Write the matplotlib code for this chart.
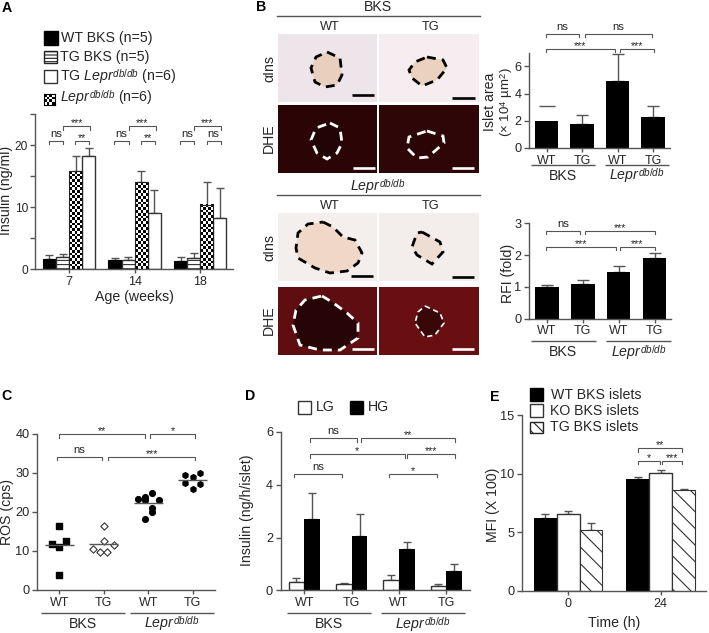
#
# Multi-panel insulin / ROS figure (A-E) with stand-ins for the micrographs in B
#
import numpy as np
import matplotlib
matplotlib.use('Agg')
import matplotlib.pyplot as plt
from matplotlib import _mathtext
from matplotlib.patches import Rectangle, Polygon

plt.rcParams.update({
    "font.family": "Liberation Sans",
    "mathtext.fontset": "custom",
    "mathtext.rm": "Liberation Sans",
    "mathtext.it": "Liberation Sans:italic",
    "mathtext.default": "regular",
    "hatch.linewidth": 0.8,
    "hatch.color": "#222222",
})
# superscripts sit lower in the original
_mathtext.FontConstantsBase.sup1 = 0.45

W, H = 709, 633
INK = '#262626'
AXC = '#555555'
LEPR = r'$\mathit{Lepr}^{\mathit{db/db}}$'

# panel A
a_weeks = ['7', '14', '18']
a_wt_bks = [1.6, 1.4, 1.3]
a_wt_bks_top = [2.2, 1.7, 1.9]
a_tg_bks = [2.0, 1.5, 1.7]
a_tg_bks_top = [2.4, 2.0, 2.6]
a_lepr = [15.8, 14.0, 10.4]
a_lepr_top = [18.2, 15.8, 14.0]
a_tg_lepr = [18.2, 9.0, 8.2]
a_tg_lepr_top = [19.5, 12.7, 13.0]
a_yticks = [0, 5, 10, 15, 20, 25]
a_ylabels = ['0', '', '10', '', '20', '']

# panel B, charts
geno = ['WT', 'TG', 'WT', 'TG']
islet_area = [1.95, 1.75, 4.9, 2.25]
islet_area_top = [3.05, 2.4, 6.9, 3.1]
rfi = [1.0, 1.1, 1.47, 1.92]
rfi_top = [1.07, 1.22, 1.67, 2.06]

# panel C
ros_wt_x = [0, -0.165, 0.16, 0, 0]
ros_wt = [16.5, 11.9, 12.5, 11.1, 3.8]
ros_tg_x = [0, 0, -0.25, 0.24, -0.08, 0.08]
ros_tg = [16.5, 12.6, 10.5, 11.5, 9.6, 9.6]
ros_lepr_x = [-0.24, -0.08, -0.08, 0.08, 0.24, 0.08, 0.08, -0.08]
ros_lepr = [23.3, 23.9, 23.0, 24.9, 23.0, 20.9, 19.9, 18.2]
ros_tglepr_x = [-0.165, 0, 0.16, -0.165, 0.16, 0]
ros_tglepr = [29.4, 28.9, 30.0, 27.4, 27.1, 25.9]
ros_means = [11.4, 11.8, 22.3, 28.2]

# panel D
lg = [0.33, 0.22, 0.38, 0.17]
lg_top = [0.47, 0.29, 0.57, 0.23]
hg = [2.72, 2.07, 1.55, 0.72]
hg_top = [3.67, 2.9, 1.83, 1.0]

# panel E
e_times = ['0', '24']
e_wt = [6.2, 9.55]
e_wt_top = [6.55, 9.7]
e_ko = [6.6, 10.1]
e_ko_top = [6.8, 10.35]
e_tg = [5.2, 8.65]
e_tg_top = [5.8, 8.72]

# significance brackets: x0, x1, y, label
a_brackets = [(-0.31, -0.09, 20.7, 'ns'), (-0.09, 0.32, 23.0, '***'), (0.09, 0.31, 20.7, '**'),
              (0.69, 0.91, 20.7, 'ns'), (0.91, 1.32, 23.0, '***'), (1.09, 1.31, 20.7, '**'),
              (1.69, 1.91, 20.7, 'ns'), (1.91, 2.31, 23.0, '***'), (2.10, 2.31, 20.7, 'ns')]
b1_brackets = [(-0.03, 0.92, 8.4, 'ns'), (1.07, 2.98, 8.4, 'ns'),
               (-0.03, 1.93, 7.3, '***'), (2.07, 3.02, 7.3, '***')]
b2_brackets = [(-0.03, 0.92, 2.77, 'ns'), (1.07, 3.0, 2.77, '***'),
               (-0.03, 1.92, 2.26, '***'), (2.05, 3.0, 2.26, '***')]
c_brackets = [(-0.015, 1.925, 39.8, '**'), (2.04, 3.05, 39.8, '*'),
              (-0.045, 0.96, 34.1, 'ns'), (1.10, 3.05, 34.1, '***')]
d_brackets = [(0.11, 1.12, 5.77, 'ns'), (1.19, 3.18, 5.77, '**'),
              (0.11, 2.12, 5.15, '*'), (2.16, 3.18, 5.15, '***'),
              (-0.22, 0.80, 4.42, 'ns'), (1.78, 2.80, 4.42, '*')]
e_brackets = [(0.756, 1.233, 12.2, '**'), (0.756, 0.995, 11.1, '*'), (1.016, 1.23, 11.1, '***')]

# micrograph stand-ins: background, islet fill, outline colour, outline width, frame, outline
panels = [
    ('#EDE5EA', '#E8CFBE', 'k', 2.0, (278, 34, 377, 102),
     [(327, 52), (340, 58), (342, 75), (337, 85), (325, 87), (315, 82), (311, 68), (316, 57)]),
    ('#F5EDEF', '#EBD2BF', 'k', 2.0, (379, 34, 479, 102),
     [(427, 57), (443, 60), (447, 68), (437, 80), (422, 86), (412, 78), (409, 70), (415, 62)]),
    ('#2B0506', '#210405', 'w', 2.0, (278, 105, 377, 173),
     [(330, 123), (340, 128), (342, 143), (337, 153), (327, 159), (317, 153), (311, 140), (316, 128)]),
    ('#2E0607', '#2B0506', 'w', 2.0, (379, 105, 479, 173),
     [(427, 131), (443, 136), (444, 143), (428, 157), (417, 158), (407, 148), (409, 137)]),
    ('#F4EEEC', '#EFD8C8', 'k', 2.0, (278, 213, 377, 281),
     [(323, 222), (333, 227), (343, 237), (355, 240), (362, 253), (358, 263), (347, 271),
      (330, 273), (315, 268), (298, 258), (296, 248), (298, 233), (308, 224)]),
    ('#F3EEEC', '#EDDDD2', 'k', 2.0, (379, 213, 479, 281),
     [(422, 232), (440, 242), (443, 252), (432, 264), (417, 255), (412, 247), (417, 233)]),
    ('#5E0E10', '#270506', 'w', 2.0, (278, 287, 377, 355),
     [(322, 296), (332, 302), (347, 313), (358, 323), (358, 338), (340, 350), (320, 350),
      (300, 345), (293, 325), (296, 310), (305, 300)]),
    ('#6A0F11', '#3A0708', 'w', 1.2, (379, 287, 479, 355),
     [(425, 306), (440, 313), (444, 323), (435, 335), (425, 337), (415, 323), (418, 312)]),
]
scale_bars = [(352, 374, 95, 'k'), (452, 475, 98, 'k'), (353, 375, 168, 'w'), (452, 474, 168, 'w'),
              (351, 373, 276, 'k'), (452, 474, 277, 'k'), (352, 374, 349, 'w'), (452, 474, 349, 'w')]

fig = plt.figure(figsize=(W / 100, H / 100), dpi=100)


def px_axes(x0, yb, x1, yt, xlim, ylim):
    ax = fig.add_axes([x0 / W, 1 - yb / H, (x1 - x0) / W, (yb - yt) / H])
    ax.set_xlim(*xlim)
    ax.set_ylim(*ylim)
    ax.patch.set_alpha(0)
    for s in ['top', 'right']:
        ax.spines[s].set_visible(False)
    for s in ['left', 'bottom']:
        ax.spines[s].set_color(AXC)
        ax.spines[s].set_linewidth(1.0)
    ax.tick_params(colors=INK, color=AXC, width=1.0, length=3.5, labelsize=9.2, pad=2)
    ax.tick_params(axis='x', labelsize=9, length=3, pad=2)
    return ax


def txt(x, y, s, size=10.2, **kw):
    kw.setdefault('ha', 'center')
    kw.setdefault('va', 'center')
    kw.setdefault('color', INK)
    return fig.text(x / W, 1 - y / H, s, fontsize=size, **kw)


def bracket(ax, x0, x1, y, label, tick_px=3.5):
    h = ax.get_window_extent().height
    lo, hi = ax.get_ylim()
    dy = (hi - lo) / h
    ax.plot([x0, x0, x1, x1], [y - tick_px * dy, y, y, y - tick_px * dy], color=AXC, lw=0.8,
            clip_on=False, solid_joinstyle='miter', zorder=4)
    off = 7 if label == 'ns' else 3
    ax.text((x0 + x1) / 2, y + off * dy, label, ha='center', va='center',
            fontsize=8.2 if label == 'ns' else 7.8, color=INK, clip_on=False)


def group_label(ax, x0, x1, s, line_px, text_px):
    h = ax.get_window_extent().height
    ax.plot([x0, x1], [-line_px / h] * 2, transform=ax.get_xaxis_transform(), color=AXC, lw=1.0,
            clip_on=False, solid_capstyle='butt')
    ax.text((x0 + x1) / 2, -(text_px + 5) / h, s, transform=ax.get_xaxis_transform(), ha='center',
            va='baseline', fontsize=10.2, color=INK)


def err(ax, x, vals, tops, cap=3):
    vals = np.array(vals)
    ax.errorbar(x, vals, yerr=[np.zeros(len(vals)), np.array(tops) - vals], fmt='none', ecolor=AXC,
                elinewidth=1, capsize=cap, capthick=1, zorder=1)


def key(x, y, w, h, **kw):
    fig.add_artist(Rectangle((x / W, 1 - (y + h) / H), w / W, h / H, transform=fig.transFigure,
                             lw=kw.pop('lw', 1.0), **kw))


# micrograph area, drawn in figure pixels
bg = fig.add_axes([0, 0, 1, 1], zorder=-1)
bg.set_xlim(0, W)
bg.set_ylim(H, 0)
bg.axis('off')
for back, fill, edge, lw, (x0, y0, x1, y1), outline in panels:
    bg.add_patch(Rectangle((x0, y0), x1 - x0, y1 - y0, fc=back, ec='none'))
    bg.add_patch(Polygon(outline, closed=True, fc=fill, ec=edge, lw=lw, ls=(0, (3.2, 2.2))))
for x0, x1, y, c in scale_bars:
    bg.plot([x0, x1], [y, y], color=c, lw=1.9, solid_capstyle='butt')
bg.plot([277, 480], [15.7, 15.7], color=AXC, lw=1.0)
bg.plot([277, 480], [195, 195], color=AXC, lw=1.0)

txt(378, 7, 'BKS', 10.2)
txt(378, 187, LEPR, 10.2)
for y in [27, 206]:
    txt(330, y, 'WT', 9.2)
    txt(431, y, 'TG', 9.2)
for y, s in [(68, 'αIns'), (138, 'DHE'), (247, 'αIns'), (320, 'DHE')]:
    txt(269, y, s, 10.2, rotation=90)

# A
ax = px_axes(35, 269, 233, 114, (-0.52, 2.5), (0, 25))
xa = np.arange(3)
bw = 0.2
series = [(a_wt_bks, a_wt_bks_top, -1.5), (a_tg_bks, a_tg_bks_top, -0.5),
          (a_lepr, a_lepr_top, 0.5), (a_tg_lepr, a_tg_lepr_top, 1.5)]
for vals, tops, k in series:
    err(ax, xa + k * bw, vals, tops)
ax.bar(xa - 1.5 * bw, a_wt_bks, bw, color='k', edgecolor='k', lw=0.8, zorder=2)
ax.bar(xa - 0.5 * bw, a_tg_bks, bw, color='w', edgecolor='#333333', lw=1, hatch='----', zorder=2)
ax.bar(xa + 1.5 * bw, a_tg_lepr, bw, color='w', edgecolor='#333333', lw=1, zorder=2)
checks = ax.bar(xa + 0.5 * bw, a_lepr, bw, color='none', edgecolor='#222222', lw=0.8, zorder=3)
for b in checks:
    rows = max(int(b.get_height() * 6.17 / 2.7), 1)
    board = np.indices((rows, 5)).sum(axis=0) % 2
    ax.imshow(board, extent=(b.get_x(), b.get_x() + b.get_width(), 0, b.get_height()),
              aspect='auto', cmap='gray', interpolation='nearest', zorder=2)
ax.set_xlim(-0.52, 2.5)
ax.set_ylim(0, 25)
ax.set_xticks(xa, a_weeks)
ax.set_yticks(a_yticks, a_ylabels)
ax.tick_params(axis='y', labelsize=8.6, pad=1.5)
for b_ in a_brackets:
    bracket(ax, *b_)
txt(6, 190, 'Insulin (ng/ml)', rotation=90)
txt(134, 297, 'Age (weeks)')

key(44, 31, 14, 14, fc='k', ec='k')
key(44, 51, 13, 12, fc='w', ec='#222222', hatch='-----')
key(44, 70, 13, 13, fc='w', ec='#333333')
leg_box = fig.add_axes([44 / W, 1 - 105 / H, 11 / W, 11 / H])
leg_box.imshow(np.indices((4, 4)).sum(axis=0) % 2, cmap='gray', aspect='auto', interpolation='nearest')
leg_box.set_xticks([])
leg_box.set_yticks([])
txt(61, 38, 'WT BKS (n=5)', ha='left')
txt(60, 57, 'TG BKS (n=5)', ha='left')
txt(60, 77, 'TG ' + LEPR + ' (n=6)', ha='left')
txt(60, 98, LEPR + ' (n=6)', ha='left')

# B charts
xb = np.arange(4)
ax = px_axes(529, 148, 670, 52.7, (-0.5, 3.48), (0, 7))
ax.bar(xb, islet_area, 0.66, color='k', zorder=2)
err(ax, xb[1:], islet_area[1:], islet_area_top[1:], cap=4)
ax.plot(xb[:1], islet_area_top[:1], marker='_', ms=11, mew=1, color=AXC, ls='none')
ax.set_xticks(xb, geno)
ax.set_yticks([0, 2, 4, 6])
for b_ in b1_brackets:
    bracket(ax, *b_)
group_label(ax, -0.44, 1.36, 'BKS', 17, 27)
group_label(ax, 1.65, 3.45, LEPR, 17, 27)
txt(490, 102, 'Islet area', rotation=90)
txt(507, 102, r'($\times$ 10$^{4}$ µm$^{2}$)', 9.5, rotation=90)

ax = px_axes(529, 318.5, 671, 223.3, (-0.5, 3.46), (0, 3))
ax.bar(xb, rfi, 0.66, color='k', zorder=2)
err(ax, xb, rfi, rfi_top, cap=4)
ax.set_xticks(xb, geno)
ax.set_yticks([0, 1, 2, 3])
for b_ in b2_brackets:
    bracket(ax, *b_)
group_label(ax, -0.44, 1.36, 'BKS', 22, 33)
group_label(ax, 1.65, 3.45, LEPR, 22, 33)
txt(508, 273, 'RFI (fold)', rotation=90)

# C
ax = px_axes(37.3, 590, 215, 433.7, (-0.494, 3.5), (0, 40))
ax.scatter(ros_wt_x, ros_wt, marker='s', s=15, color='k', zorder=3)
ax.scatter(1 + np.array(ros_tg_x), ros_tg, marker='D', s=14, facecolor='w', edgecolor='#333333', lw=0.8, zorder=3)
ax.scatter(2 + np.array(ros_lepr_x), ros_lepr, marker='o', s=17, color='k', zorder=3)
ax.scatter(3 + np.array(ros_tglepr_x), ros_tglepr, marker='h', s=17, color='k', zorder=3)
ax.hlines(ros_means, xb - 0.33, xb + 0.33, color=AXC, lw=1, zorder=4)
ax.set_xticks(xb, geno)
ax.set_yticks([0, 10, 20, 30, 40])
for b_ in c_brackets:
    bracket(ax, *b_)
group_label(ax, -0.41, 1.48, 'BKS', 23, 33)
group_label(ax, 1.59, 3.47, LEPR, 23, 33)
txt(7, 512, 'ROS (cps)', rotation=90)

# D
ax = px_axes(280.7, 590.3, 470, 432, (-0.5, 3.5), (0, 6))
bw = 0.333
err(ax, xb - bw / 2, lg, lg_top)
err(ax, xb + bw / 2, hg, hg_top)
ax.bar(xb - bw / 2, lg, bw, color='w', edgecolor='#333333', lw=1, zorder=2)
ax.bar(xb + bw / 2, hg, bw, color='k', zorder=2)
ax.set_xticks(xb, geno)
ax.set_yticks([0, 2, 4, 6])
for b_ in d_brackets:
    bracket(ax, *b_)
group_label(ax, -0.365, 1.41, 'BKS', 23, 33)
group_label(ax, 1.62, 3.39, LEPR, 23, 33)
txt(247, 510, 'Insulin (ng/h/islet)', rotation=90)
key(298, 401, 13, 13, fc='w', ec='#333333')
key(350, 401, 13, 13, fc='k', ec='k')
txt(316, 407, 'LG', 10.2, ha='left')
txt(368, 407, 'HG', 10.2, ha='left')

# E
ax = px_axes(522, 590.7, 706, 415.3, (-0.5, 1.49), (0, 15))
xe = np.arange(2)
bw = 0.247
err(ax, xe - bw, e_wt, e_wt_top)
err(ax, xe, e_ko, e_ko_top)
err(ax, xe + bw, e_tg, e_tg_top)
ax.bar(xe - bw, e_wt, bw, color='k', zorder=2)
ax.bar(xe, e_ko, bw, color='w', edgecolor='#333333', lw=1, zorder=2)
ax.bar(xe + bw, e_tg, bw, color='w', edgecolor='#333333', lw=0.8, hatch='\\\\', zorder=2)
ax.set_xticks(xe, e_times)
ax.set_yticks([0, 5, 10, 15])
for b_ in e_brackets:
    bracket(ax, *b_)
txt(493, 505, 'MFI (X 100)', rotation=90)
txt(614, 623, 'Time (h)')
key(530, 388, 13, 13, fc='k', ec='k')
key(530, 404, 13, 13, fc='w', ec='#333333')
key(530, 422, 13, 11, fc='w', ec='#222222', hatch='\\\\\\')
txt(551, 395, 'WT BKS islets', ha='left')
txt(550, 411, 'KO BKS islets', ha='left')
txt(550, 427, 'TG BKS islets', ha='left')

for x, y, s in [(2, 8, 'A'), (256, 7, 'B'), (1, 396, 'C'), (245, 396, 'D'), (490, 397, 'E')]:
    txt(x, y, s, 10.2, ha='left', fontweight='bold', color='k')

fig.savefig('out.png', dpi=100)
